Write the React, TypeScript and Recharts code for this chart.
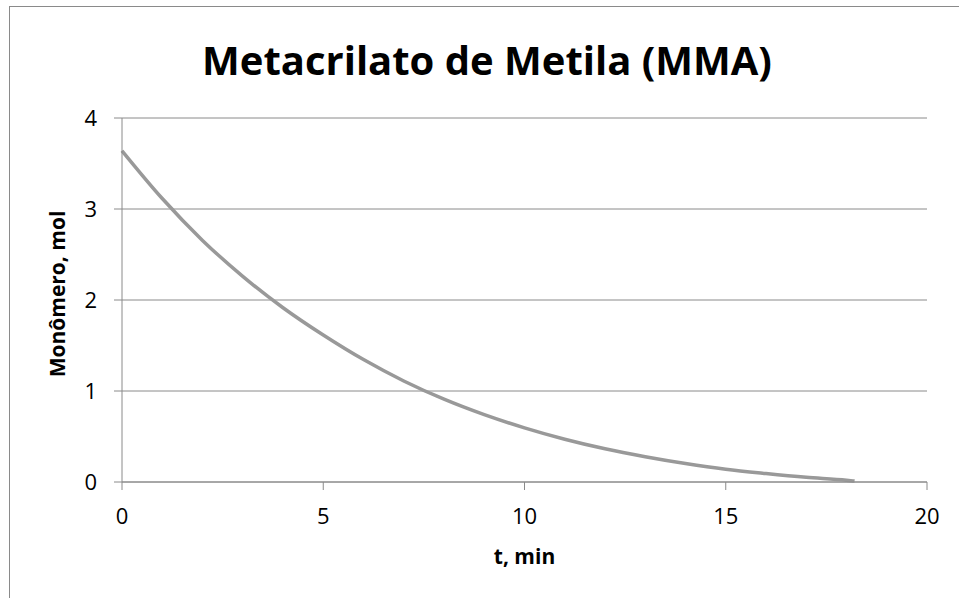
import React from 'react';
import { LineChart, Line, XAxis, YAxis, CartesianGrid, Label } from 'recharts';

// Monomer remaining vs. reaction time
const timeMin = [0, 1, 2, 3, 4, 5, 6, 7, 8, 9, 10, 11, 12, 13, 14, 15, 16, 17, 18, 18.2];
const monomerMol = [3.64, 3.115, 2.655, 2.26, 1.915, 1.615, 1.345, 1.11, 0.91, 0.74, 0.595, 0.47, 0.365, 0.278, 0.203, 0.14, 0.093, 0.052, 0.02, 0.01];

const xTicks = [0, 5, 10, 15, 20];
const yTicks = [0, 1, 2, 3, 4];

const chartTitle = 'Metacrilato de Metila (MMA)';
const xLabel = 't, min';
const yLabel = 'Monômero, mol';

const data = timeMin.map((t, i) => ({ t, mol: monomerMol[i] }));

const font = '"Open Sans", Lato, sans-serif';
const gray = '#8a8a8a';

const App: React.FC = () => {
  return (
    <div style={{ position: 'fixed', left: 0, top: 0, width: 959, height: 598, overflow: 'hidden', background: '#fff', fontFamily: font }}>
      {/* chart frame, runs off the right and bottom edges */}
      <div
        style={{
          position: 'absolute',
          left: 9,
          top: 6,
          width: 1000,
          height: 700,
          border: `1px solid ${gray}`,
          boxSizing: 'border-box',
        }}
      />
      <div
        style={{
          position: 'absolute',
          left: 0,
          width: 974,
          top: 38,
          lineHeight: '44px',
          textAlign: 'center',
          fontSize: 40,
          fontWeight: 700,
          color: '#000',
        }}
      >
        {chartTitle}
      </div>
      <div style={{ position: 'absolute', left: 0, top: 0 }}>
        <LineChart width={959} height={598} data={data} margin={{ top: 118, right: 32, bottom: 26, left: 0 }}>
          <CartesianGrid vertical={false} stroke={gray} strokeWidth={1} />
          <XAxis
            dataKey="t"
            type="number"
            domain={[0, 20]}
            ticks={xTicks}
            height={90}
            tickSize={8}
            tickMargin={18}
            stroke={gray}
            tick={{ fill: '#000', fontSize: 22, fontFamily: font }}
          >
            <Label value={xLabel} position="insideBottom" offset={8} style={{ fill: '#000', fontSize: 21, fontWeight: 700, fontFamily: font }} />
          </XAxis>
          <YAxis
            type="number"
            domain={[0, 4]}
            ticks={yTicks}
            width={122}
            tickSize={8}
            tickMargin={17}
            stroke={gray}
            tick={{ fill: '#000', fontSize: 22, fontFamily: font }}
          >
            <Label
              value={yLabel}
              angle={-90}
              position="insideLeft"
              offset={58}
              dy={-6}
              style={{ textAnchor: 'middle', fill: '#000', fontSize: 21, fontWeight: 700, fontFamily: font }}
            />
          </YAxis>
          <Line
            type="monotone"
            dataKey="mol"
            stroke="#999999"
            strokeWidth={3.5}
            dot={false}
            isAnimationActive={false}
          />
        </LineChart>
      </div>
    </div>
  );
};

export default App;
